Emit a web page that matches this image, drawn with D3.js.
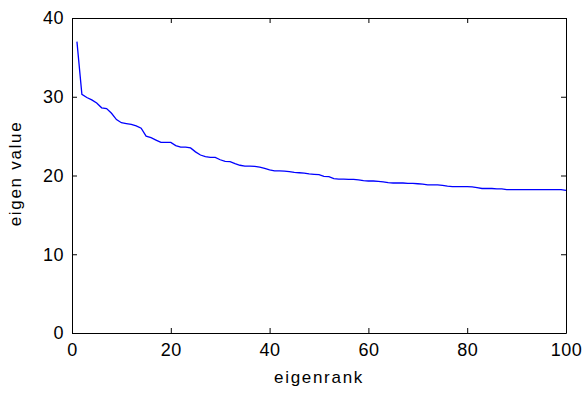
<!DOCTYPE html>
<html>
<head>
<meta charset="utf-8">
<script src="https://cdn.jsdelivr.net/npm/d3@7"></script>
<style>
  body { margin: 0; background: #fff; }
  svg { display: block; }
  .axis text { font-family: "Liberation Sans", Arial, sans-serif; font-size: 18px; letter-spacing: 0.5px; fill: #000; }
  .axis path, .axis line { stroke: #000; }
  .label { font-family: "Liberation Sans", Arial, sans-serif; font-size: 17px; letter-spacing: 1.7px; fill: #000; }
</style>
</head>
<body>
<div id="chart"></div>
<script>
// eigenvalue by rank (1..100)
const ranks = d3.range(1, 101);
const eigenValues = [
  37.0, 30.3, 29.9, 29.6, 29.2, 28.6, 28.5, 27.9, 27.1, 26.7,
  26.6, 26.5, 26.3, 26.0, 25.0, 24.8, 24.5, 24.2, 24.2, 24.2,
  23.8, 23.6, 23.6, 23.5, 23.0, 22.6, 22.4, 22.3, 22.3, 22.0,
  21.8, 21.75, 21.5, 21.3, 21.2, 21.2, 21.15, 21.05, 20.9, 20.7,
  20.6, 20.6, 20.55, 20.5, 20.4, 20.35, 20.3, 20.2, 20.15, 20.1,
  19.9, 19.85, 19.6, 19.55, 19.55, 19.5, 19.5, 19.45, 19.35, 19.3,
  19.3, 19.25, 19.2, 19.1, 19.05, 19.05, 19.05, 19.0, 19.0, 18.95,
  18.9, 18.8, 18.8, 18.8, 18.75, 18.65, 18.6, 18.6, 18.6, 18.6,
  18.55, 18.45, 18.35, 18.35, 18.35, 18.3, 18.3, 18.2, 18.2, 18.2,
  18.2, 18.2, 18.2, 18.2, 18.2, 18.2, 18.2, 18.2, 18.2, 18.1
];
const xTicks = [0, 20, 40, 60, 80, 100];
const yTicks = [0, 10, 20, 30, 40];

const margin = { top: 18, right: 21, bottom: 60, left: 72 };
const width = 587 - margin.left - margin.right;
const height = 393 - margin.top - margin.bottom;

const svg = d3
  .select("#chart")
  .append("svg")
  .attr("width", 587)
  .attr("height", 393);

const g = svg
  .append("g")
  .attr("transform", "translate(" + margin.left + "," + margin.top + ")");

const xScale = d3.scaleLinear().domain([0, 100]).range([0, width]);
const yScale = d3.scaleLinear().domain([0, 40]).range([height, 0]);

// box with inward ticks on all four sides
g.append("g")
  .attr("class", "axis")
  .attr("transform", "translate(0," + height + ")")
  .call(d3.axisBottom(xScale).tickValues(xTicks).tickSizeInner(-5).tickSizeOuter(0).tickPadding(10));

g.append("g")
  .attr("class", "axis")
  .call(d3.axisTop(xScale).tickValues(xTicks).tickSizeInner(-5).tickSizeOuter(0).tickFormat(""));

g.append("g")
  .attr("class", "axis")
  .call(d3.axisLeft(yScale).tickValues(yTicks).tickSizeInner(-5).tickSizeOuter(0).tickPadding(8));

g.append("g")
  .attr("class", "axis")
  .attr("transform", "translate(" + width + ",0)")
  .call(d3.axisRight(yScale).tickValues(yTicks).tickSizeInner(-5).tickSizeOuter(0).tickFormat(""));

const line = d3
  .line()
  .x((d, i) => xScale(ranks[i]))
  .y((d) => yScale(d));

g.append("path")
  .datum(eigenValues)
  .attr("fill", "none")
  .attr("stroke", "#0000ff")
  .attr("stroke-width", 1.3)
  .attr("d", line);

g.append("text")
  .attr("class", "label")
  .attr("x", width / 2)
  .attr("y", height + 50)
  .attr("text-anchor", "middle")
  .text("eigenrank");

g.append("text")
  .attr("class", "label")
  .attr("transform", "rotate(-90)")
  .attr("x", -height / 2 + 2)
  .attr("y", -51)
  .attr("text-anchor", "middle")
  .text("eigen value");
</script>
</body>
</html>
